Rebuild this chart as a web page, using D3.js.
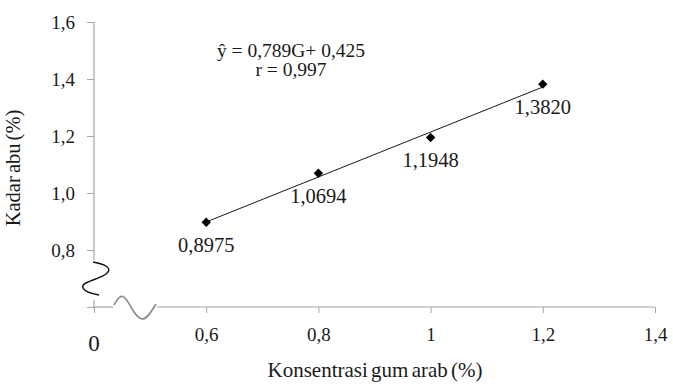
<!DOCTYPE html>
<html>
<head>
<meta charset="utf-8">
<script src="https://cdn.jsdelivr.net/npm/d3@7"></script>
<style>
  html, body { margin: 0; padding: 0; background: #fff; }
  svg { display: block; }
  text { font-family: "Liberation Serif", "Times New Roman", "DejaVu Serif", serif; fill: #1a1a1a; }
</style>
</head>
<body>
<svg id="chart"></svg>
<script>
// ── Data ─────────────────────────────────────────────
const concentrations = [0.6, 0.8, 1.0, 1.2];
const ashValues      = [0.8975, 1.0694, 1.1948, 1.3820];
const pointLabels    = ['0,8975', '1,0694', '1,1948', '1,3820'];
const xTicks         = [0.4, 0.6, 0.8, 1.0, 1.2, 1.4];   // 0.4 slot shown as broken "0"
const yTicks         = [0.6, 0.8, 1.0, 1.2, 1.4, 1.6];   // 0.6 slot is the broken origin
const slope = 0.789, intercept = 0.425;
const equationLines  = ['ŷ = 0,789G+ 0,425', 'r = 0,997'];

const W = 673, H = 388;
const AXIS = '#a6a6a6';
const SERIF = '"Liberation Serif", "Times New Roman", serif';

const svg = d3.select('#chart').attr('width', W).attr('height', H);

// ── Scales ───────────────────────────────────────────
const x = d3.scaleLinear().domain([0.4, 1.4]).range([94, 655]);
const y = d3.scaleLinear().domain([0.6, 1.6]).range([307, 22]);

const comma = d => d3.format('.1f')(d).replace('.', ',');

// ── Axes ─────────────────────────────────────────────
const xAxis = svg.append('g')
  .attr('transform', `translate(0,${y(0.6)})`)
  .call(d3.axisBottom(x).tickValues(xTicks).tickSize(6)
    .tickFormat(d => d === 0.4 ? '' : (d === 1 ? '1' : comma(d))));

xAxis.attr('font-family', SERIF);
xAxis.select('.domain').remove();
xAxis.selectAll('.tick line').attr('stroke', AXIS);
xAxis.selectAll('.tick text')
  .attr('y', 34).attr('dy', 0)
  .attr('font-size', 19)
  .attr('fill', '#1a1a1a');

const yAxis = svg.append('g')
  .attr('transform', `translate(${x(0.4)},0)`)
  .call(d3.axisLeft(y).tickValues(yTicks).tickSize(7)
    .tickFormat(d => d === 0.6 ? '' : comma(d)));

yAxis.attr('font-family', SERIF);
yAxis.select('.domain').remove();
yAxis.selectAll('.tick line').attr('stroke', AXIS);
yAxis.selectAll('.tick text')
  .attr('x', -19).attr('dy', '0.33em')
  .attr('font-size', 19)
  .attr('fill', '#1a1a1a');

// broken axis lines
const x0 = x(0.4), y0 = y(0.6);
svg.append('line')
  .attr('x1', x0).attr('x2', x0).attr('y1', y(1.6)).attr('y2', 260)
  .attr('stroke', AXIS).attr('stroke-width', 1.2);
svg.append('line')
  .attr('x1', x0).attr('x2', x0).attr('y1', 300).attr('y2', y0)
  .attr('stroke', AXIS).attr('stroke-width', 1.2);
svg.append('line')
  .attr('x1', x0).attr('x2', 113).attr('y1', y0).attr('y2', y0)
  .attr('stroke', AXIS).attr('stroke-width', 1.2);
svg.append('line')
  .attr('x1', 157).attr('x2', x(1.4)).attr('y1', y0).attr('y2', y0)
  .attr('stroke', AXIS).attr('stroke-width', 1.2);

// break marks
svg.append('path')
  .attr('d', 'M93,262 C104,264 114,268 106,274 C98,280 80,282 83,288 C85,292 93,294 99,295')
  .attr('fill', 'none').attr('stroke', '#111').attr('stroke-width', 1.5);
svg.append('path')
  .attr('d', 'M114,305 C118,298 121,294 125,298 C130,303 135,318 142,319 C147,320 152,310 156,304')
  .attr('fill', 'none').attr('stroke', '#8a8a8a').attr('stroke-width', 1.6);

// "0" origin label
svg.append('text')
  .attr('x', x0).attr('y', 351)
  .attr('text-anchor', 'middle')
  .attr('font-size', 23)
  .text('0');

// ── Trend line ───────────────────────────────────────
const xs = d3.extent(concentrations);
svg.append('line')
  .attr('x1', x(xs[0])).attr('y1', y(slope * xs[0] + intercept))
  .attr('x2', x(xs[1])).attr('y2', y(slope * xs[1] + intercept))
  .attr('stroke', '#1a1a1a').attr('stroke-width', 1);

// ── Points ───────────────────────────────────────────
const pts = concentrations.map((c, i) => ({ c, v: ashValues[i], label: pointLabels[i] }));
const diamond = d3.symbol().type(d3.symbolSquare).size(44);

svg.selectAll('.pt')
  .data(pts)
  .join('path')
    .attr('class', 'pt')
    .attr('d', diamond)
    .attr('transform', d => `translate(${x(d.c)},${y(d.v)}) rotate(45)`)
    .attr('fill', '#000');

svg.selectAll('.pt-label')
  .data(pts)
  .join('text')
    .attr('class', 'pt-label')
    .attr('x', d => x(d.c))
    .attr('y', d => y(d.v) + 30)
    .attr('text-anchor', 'middle')
    .attr('font-size', 20.5)
    .text(d => d.label);

// ── Equation ─────────────────────────────────────────
svg.selectAll('.eq')
  .data(equationLines)
  .join('text')
    .attr('class', 'eq')
    .attr('x', 291)
    .attr('y', (d, i) => 57 + i * 19)
    .attr('text-anchor', 'middle')
    .attr('font-size', 19.5)
    .text(d => d);

// ── Axis titles ──────────────────────────────────────
svg.append('text')
  .attr('x', 375).attr('y', 377)
  .attr('text-anchor', 'middle')
  .attr('font-size', 21)
  .attr('word-spacing', -2)
  .text('Konsentrasi gum arab (%)');

svg.append('text')
  .attr('transform', 'rotate(-90)')
  .attr('x', -168).attr('y', 20)
  .attr('text-anchor', 'middle')
  .attr('font-size', 20.5)
  .attr('word-spacing', -2)
  .text('Kadar abu (%)');
</script>
</body>
</html>
